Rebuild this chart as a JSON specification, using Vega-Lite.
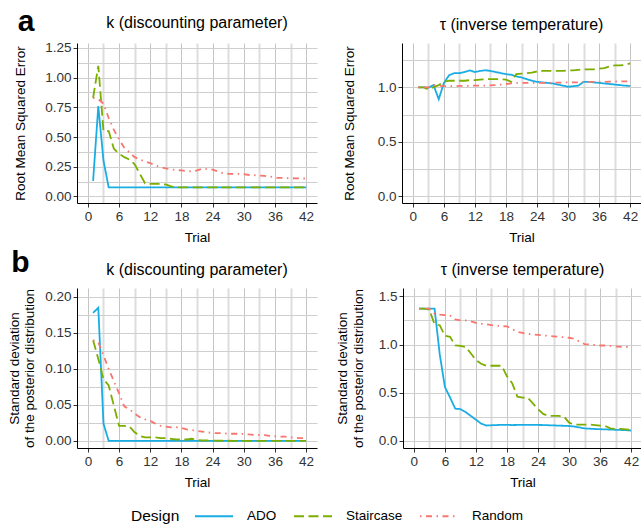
{
  "$schema": "https://vega.github.io/schema/vega-lite/v6.json",
  "background": "white",
  "padding": {"left": 7, "right": 0, "top": 6, "bottom": 5},
  "config": {
    "font": "Liberation Sans",
    "view": {"stroke": null},
    "axis": {"domainColor": "black", "domainWidth": 1, "tickColor": "#333333", "tickSize": 4, "labelFontSize": 13.5, "labelColor": "#333333", "labelPadding": 2, "titleFontSize": 13.5, "titleFontWeight": "normal", "titleColor": "black", "grid": true, "gridColor": "#cfcfcf", "gridWidth": 1},
    "title": {"fontSize": 16, "fontWeight": "normal", "offset": 10},
    "legend": {"orient": "none", "direction": "horizontal", "titleOrient": "left", "titleAnchor": "middle", "titleBaseline": "top", "titleFontSize": 15.5, "titleFontWeight": "normal", "titleColor": "black", "labelFontSize": 13.5, "labelColor": "black", "symbolType": "stroke", "symbolSize": 1444, "symbolStrokeWidth": 1.8, "columnPadding": 13, "labelOffset": 13, "titlePadding": 14}
  },
  "data": {"values": [
    {"p":"kR","t":1,"ADO":0.13,"Staircase":0.83,"Random":0.83},
    {"p":"kR","t":2,"ADO":0.76,"Staircase":1.10,"Random":0.82},
    {"p":"kR","t":3,"ADO":0.30,"Staircase":0.55,"Random":0.78},
    {"p":"kR","t":4,"ADO":0.075,"Staircase":0.55,"Random":0.66},
    {"p":"kR","t":5,"ADO":0.075,"Staircase":0.40,"Random":0.56},
    {"p":"kR","t":6,"ADO":0.075,"Staircase":0.36,"Random":0.48},
    {"p":"kR","t":7,"ADO":0.075,"Staircase":0.33,"Random":0.41},
    {"p":"kR","t":8,"ADO":0.075,"Staircase":0.31,"Random":0.37},
    {"p":"kR","t":9,"ADO":0.075,"Staircase":0.27,"Random":0.33},
    {"p":"kR","t":10,"ADO":0.075,"Staircase":0.19,"Random":0.31},
    {"p":"kR","t":11,"ADO":0.075,"Staircase":0.11,"Random":0.295},
    {"p":"kR","t":12,"ADO":0.075,"Staircase":0.105,"Random":0.28},
    {"p":"kR","t":13,"ADO":0.075,"Staircase":0.105,"Random":0.26},
    {"p":"kR","t":14,"ADO":0.075,"Staircase":0.105,"Random":0.245},
    {"p":"kR","t":15,"ADO":0.075,"Staircase":0.10,"Random":0.235},
    {"p":"kR","t":16,"ADO":0.075,"Staircase":0.085,"Random":0.228},
    {"p":"kR","t":17,"ADO":0.075,"Staircase":0.075,"Random":0.222},
    {"p":"kR","t":18,"ADO":0.075,"Staircase":0.075,"Random":0.218},
    {"p":"kR","t":19,"ADO":0.075,"Staircase":0.075,"Random":0.214},
    {"p":"kR","t":20,"ADO":0.075,"Staircase":0.075,"Random":0.21},
    {"p":"kR","t":21,"ADO":0.075,"Staircase":0.075,"Random":0.218},
    {"p":"kR","t":22,"ADO":0.075,"Staircase":0.075,"Random":0.232},
    {"p":"kR","t":23,"ADO":0.075,"Staircase":0.075,"Random":0.23},
    {"p":"kR","t":24,"ADO":0.075,"Staircase":0.075,"Random":0.225},
    {"p":"kR","t":25,"ADO":0.075,"Staircase":0.075,"Random":0.21},
    {"p":"kR","t":26,"ADO":0.075,"Staircase":0.075,"Random":0.195},
    {"p":"kR","t":27,"ADO":0.075,"Staircase":0.075,"Random":0.19},
    {"p":"kR","t":28,"ADO":0.075,"Staircase":0.075,"Random":0.19},
    {"p":"kR","t":29,"ADO":0.075,"Staircase":0.075,"Random":0.19},
    {"p":"kR","t":30,"ADO":0.075,"Staircase":0.075,"Random":0.188},
    {"p":"kR","t":31,"ADO":0.075,"Staircase":0.075,"Random":0.18},
    {"p":"kR","t":32,"ADO":0.075,"Staircase":0.075,"Random":0.178},
    {"p":"kR","t":33,"ADO":0.075,"Staircase":0.075,"Random":0.175},
    {"p":"kR","t":34,"ADO":0.075,"Staircase":0.075,"Random":0.172},
    {"p":"kR","t":35,"ADO":0.075,"Staircase":0.075,"Random":0.168},
    {"p":"kR","t":36,"ADO":0.075,"Staircase":0.075,"Random":0.157},
    {"p":"kR","t":37,"ADO":0.075,"Staircase":0.075,"Random":0.155},
    {"p":"kR","t":38,"ADO":0.075,"Staircase":0.075,"Random":0.155},
    {"p":"kR","t":39,"ADO":0.075,"Staircase":0.075,"Random":0.153},
    {"p":"kR","t":40,"ADO":0.075,"Staircase":0.075,"Random":0.152},
    {"p":"kR","t":41,"ADO":0.075,"Staircase":0.075,"Random":0.151},
    {"p":"kR","t":42,"ADO":0.075,"Staircase":0.075,"Random":0.15},
    {"p":"tR","t":1,"ADO":1.0,"Staircase":1.0,"Random":1.0},
    {"p":"tR","t":2,"ADO":1.0,"Staircase":1.0,"Random":1.0},
    {"p":"tR","t":3,"ADO":0.995,"Staircase":0.98,"Random":1.0},
    {"p":"tR","t":4,"ADO":1.02,"Staircase":1.0,"Random":1.02},
    {"p":"tR","t":5,"ADO":0.89,"Staircase":1.02,"Random":1.015},
    {"p":"tR","t":6,"ADO":1.04,"Staircase":1.05,"Random":1.01},
    {"p":"tR","t":7,"ADO":1.11,"Staircase":1.06,"Random":1.01},
    {"p":"tR","t":8,"ADO":1.13,"Staircase":1.06,"Random":1.01},
    {"p":"tR","t":9,"ADO":1.13,"Staircase":1.06,"Random":1.012},
    {"p":"tR","t":10,"ADO":1.14,"Staircase":1.06,"Random":1.012},
    {"p":"tR","t":11,"ADO":1.155,"Staircase":1.065,"Random":1.014},
    {"p":"tR","t":12,"ADO":1.14,"Staircase":1.065,"Random":1.015},
    {"p":"tR","t":13,"ADO":1.15,"Staircase":1.07,"Random":1.015},
    {"p":"tR","t":14,"ADO":1.156,"Staircase":1.075,"Random":1.016},
    {"p":"tR","t":15,"ADO":1.15,"Staircase":1.075,"Random":1.018},
    {"p":"tR","t":16,"ADO":1.14,"Staircase":1.075,"Random":1.02},
    {"p":"tR","t":17,"ADO":1.13,"Staircase":1.075,"Random":1.025},
    {"p":"tR","t":18,"ADO":1.12,"Staircase":1.07,"Random":1.03},
    {"p":"tR","t":19,"ADO":1.115,"Staircase":1.05,"Random":1.035},
    {"p":"tR","t":20,"ADO":1.1,"Staircase":1.12,"Random":1.04},
    {"p":"tR","t":21,"ADO":1.09,"Staircase":1.125,"Random":1.04},
    {"p":"tR","t":22,"ADO":1.075,"Staircase":1.13,"Random":1.04},
    {"p":"tR","t":23,"ADO":1.06,"Staircase":1.135,"Random":1.042},
    {"p":"tR","t":24,"ADO":1.05,"Staircase":1.145,"Random":1.04},
    {"p":"tR","t":25,"ADO":1.045,"Staircase":1.15,"Random":1.04},
    {"p":"tR","t":26,"ADO":1.04,"Staircase":1.15,"Random":1.04},
    {"p":"tR","t":27,"ADO":1.035,"Staircase":1.15,"Random":1.042},
    {"p":"tR","t":28,"ADO":1.025,"Staircase":1.15,"Random":1.042},
    {"p":"tR","t":29,"ADO":1.015,"Staircase":1.15,"Random":1.044},
    {"p":"tR","t":30,"ADO":1.005,"Staircase":1.155,"Random":1.045},
    {"p":"tR","t":31,"ADO":1.01,"Staircase":1.155,"Random":1.045},
    {"p":"tR","t":32,"ADO":1.015,"Staircase":1.16,"Random":1.046},
    {"p":"tR","t":33,"ADO":1.05,"Staircase":1.165,"Random":1.048},
    {"p":"tR","t":34,"ADO":1.05,"Staircase":1.165,"Random":1.05},
    {"p":"tR","t":35,"ADO":1.045,"Staircase":1.165,"Random":1.05},
    {"p":"tR","t":36,"ADO":1.04,"Staircase":1.17,"Random":1.05},
    {"p":"tR","t":37,"ADO":1.035,"Staircase":1.175,"Random":1.05},
    {"p":"tR","t":38,"ADO":1.03,"Staircase":1.19,"Random":1.052},
    {"p":"tR","t":39,"ADO":1.025,"Staircase":1.2,"Random":1.052},
    {"p":"tR","t":40,"ADO":1.02,"Staircase":1.2,"Random":1.054},
    {"p":"tR","t":41,"ADO":1.015,"Staircase":1.205,"Random":1.055},
    {"p":"tR","t":42,"ADO":1.012,"Staircase":1.22,"Random":1.055},
    {"p":"kS","t":1,"ADO":0.178,"Staircase":0.14,"Random":0.14},
    {"p":"kS","t":2,"ADO":0.185,"Staircase":0.114,"Random":0.137},
    {"p":"kS","t":3,"ADO":0.024,"Staircase":0.086,"Random":0.119},
    {"p":"kS","t":4,"ADO":0.0,"Staircase":0.077,"Random":0.1},
    {"p":"kS","t":5,"ADO":0.0,"Staircase":0.049,"Random":0.083},
    {"p":"kS","t":6,"ADO":0.0,"Staircase":0.021,"Random":0.066},
    {"p":"kS","t":7,"ADO":0.0,"Staircase":0.021,"Random":0.048},
    {"p":"kS","t":8,"ADO":0.0,"Staircase":0.02,"Random":0.044},
    {"p":"kS","t":9,"ADO":0.0,"Staircase":0.012,"Random":0.038},
    {"p":"kS","t":10,"ADO":0.0,"Staircase":0.007,"Random":0.033},
    {"p":"kS","t":11,"ADO":0.0,"Staircase":0.005,"Random":0.03},
    {"p":"kS","t":12,"ADO":0.0,"Staircase":0.005,"Random":0.028},
    {"p":"kS","t":13,"ADO":0.0,"Staircase":0.005,"Random":0.024},
    {"p":"kS","t":14,"ADO":0.0,"Staircase":0.004,"Random":0.021},
    {"p":"kS","t":15,"ADO":0.0,"Staircase":0.004,"Random":0.02},
    {"p":"kS","t":16,"ADO":0.0,"Staircase":0.003,"Random":0.019},
    {"p":"kS","t":17,"ADO":0.0,"Staircase":0.002,"Random":0.019},
    {"p":"kS","t":18,"ADO":0.0,"Staircase":0.002,"Random":0.018},
    {"p":"kS","t":19,"ADO":0.0,"Staircase":0.002,"Random":0.016},
    {"p":"kS","t":20,"ADO":0.0,"Staircase":0.003,"Random":0.015},
    {"p":"kS","t":21,"ADO":0.0,"Staircase":0.001,"Random":0.014},
    {"p":"kS","t":22,"ADO":0.0,"Staircase":0.0008,"Random":0.013},
    {"p":"kS","t":23,"ADO":0.0,"Staircase":0.0006,"Random":0.012},
    {"p":"kS","t":24,"ADO":0.0,"Staircase":0.0005,"Random":0.011},
    {"p":"kS","t":25,"ADO":0.0,"Staircase":0.0004,"Random":0.011},
    {"p":"kS","t":26,"ADO":0.0,"Staircase":0.0003,"Random":0.011},
    {"p":"kS","t":27,"ADO":0.0,"Staircase":0.0003,"Random":0.01},
    {"p":"kS","t":28,"ADO":0.0,"Staircase":0.0002,"Random":0.01},
    {"p":"kS","t":29,"ADO":0.0,"Staircase":0.0002,"Random":0.01},
    {"p":"kS","t":30,"ADO":0.0,"Staircase":0.0002,"Random":0.0097},
    {"p":"kS","t":31,"ADO":0.0,"Staircase":0.0001,"Random":0.009},
    {"p":"kS","t":32,"ADO":0.0,"Staircase":0.0001,"Random":0.0085},
    {"p":"kS","t":33,"ADO":0.0,"Staircase":0.0001,"Random":0.0083},
    {"p":"kS","t":34,"ADO":0.0,"Staircase":0.0001,"Random":0.008},
    {"p":"kS","t":35,"ADO":0.0,"Staircase":0.0001,"Random":0.007},
    {"p":"kS","t":36,"ADO":0.0,"Staircase":0.0001,"Random":0.0065},
    {"p":"kS","t":37,"ADO":0.0,"Staircase":0.0,"Random":0.006},
    {"p":"kS","t":38,"ADO":0.0,"Staircase":0.0,"Random":0.006},
    {"p":"kS","t":39,"ADO":0.0,"Staircase":0.0,"Random":0.005},
    {"p":"kS","t":40,"ADO":0.0,"Staircase":0.0,"Random":0.0045},
    {"p":"kS","t":41,"ADO":0.0,"Staircase":0.0,"Random":0.004},
    {"p":"kS","t":42,"ADO":0.0,"Staircase":0.0,"Random":0.004},
    {"p":"tS","t":1,"ADO":1.372,"Staircase":1.372,"Random":1.372},
    {"p":"tS","t":2,"ADO":1.372,"Staircase":1.372,"Random":1.372},
    {"p":"tS","t":3,"ADO":1.372,"Staircase":1.36,"Random":1.372},
    {"p":"tS","t":4,"ADO":1.372,"Staircase":1.21,"Random":1.32},
    {"p":"tS","t":5,"ADO":0.9,"Staircase":1.2,"Random":1.31},
    {"p":"tS","t":6,"ADO":0.56,"Staircase":1.09,"Random":1.305},
    {"p":"tS","t":7,"ADO":0.45,"Staircase":1.08,"Random":1.3},
    {"p":"tS","t":8,"ADO":0.335,"Staircase":0.99,"Random":1.26},
    {"p":"tS","t":9,"ADO":0.33,"Staircase":0.985,"Random":1.25},
    {"p":"tS","t":10,"ADO":0.3,"Staircase":0.975,"Random":1.25},
    {"p":"tS","t":11,"ADO":0.26,"Staircase":0.91,"Random":1.24},
    {"p":"tS","t":12,"ADO":0.22,"Staircase":0.84,"Random":1.225},
    {"p":"tS","t":13,"ADO":0.18,"Staircase":0.8,"Random":1.215},
    {"p":"tS","t":14,"ADO":0.16,"Staircase":0.78,"Random":1.21},
    {"p":"tS","t":15,"ADO":0.163,"Staircase":0.78,"Random":1.2},
    {"p":"tS","t":16,"ADO":0.165,"Staircase":0.78,"Random":1.195},
    {"p":"tS","t":17,"ADO":0.167,"Staircase":0.78,"Random":1.19},
    {"p":"tS","t":18,"ADO":0.167,"Staircase":0.67,"Random":1.188},
    {"p":"tS","t":19,"ADO":0.165,"Staircase":0.6,"Random":1.16},
    {"p":"tS","t":20,"ADO":0.166,"Staircase":0.46,"Random":1.13},
    {"p":"tS","t":21,"ADO":0.167,"Staircase":0.45,"Random":1.12},
    {"p":"tS","t":22,"ADO":0.167,"Staircase":0.45,"Random":1.11},
    {"p":"tS","t":23,"ADO":0.167,"Staircase":0.39,"Random":1.105},
    {"p":"tS","t":24,"ADO":0.166,"Staircase":0.33,"Random":1.1},
    {"p":"tS","t":25,"ADO":0.165,"Staircase":0.28,"Random":1.095},
    {"p":"tS","t":26,"ADO":0.163,"Staircase":0.26,"Random":1.09},
    {"p":"tS","t":27,"ADO":0.161,"Staircase":0.26,"Random":1.085},
    {"p":"tS","t":28,"ADO":0.159,"Staircase":0.26,"Random":1.08},
    {"p":"tS","t":29,"ADO":0.157,"Staircase":0.255,"Random":1.075},
    {"p":"tS","t":30,"ADO":0.155,"Staircase":0.19,"Random":1.07},
    {"p":"tS","t":31,"ADO":0.15,"Staircase":0.17,"Random":1.06},
    {"p":"tS","t":32,"ADO":0.14,"Staircase":0.17,"Random":1.03},
    {"p":"tS","t":33,"ADO":0.13,"Staircase":0.17,"Random":1.005},
    {"p":"tS","t":34,"ADO":0.127,"Staircase":0.17,"Random":1.0},
    {"p":"tS","t":35,"ADO":0.124,"Staircase":0.165,"Random":0.995},
    {"p":"tS","t":36,"ADO":0.122,"Staircase":0.16,"Random":0.99},
    {"p":"tS","t":37,"ADO":0.12,"Staircase":0.155,"Random":0.99},
    {"p":"tS","t":38,"ADO":0.118,"Staircase":0.13,"Random":0.985},
    {"p":"tS","t":39,"ADO":0.116,"Staircase":0.125,"Random":0.98},
    {"p":"tS","t":40,"ADO":0.114,"Staircase":0.125,"Random":0.975},
    {"p":"tS","t":41,"ADO":0.112,"Staircase":0.12,"Random":0.975},
    {"p":"tS","t":42,"ADO":0.108,"Staircase":0.115,"Random":0.973}
  ]},
  "resolve": {"scale": {"color": "shared", "strokeDash": "shared"}},
  "spacing": 4,
  "vconcat": [
    {
      "title": {"text": "a", "anchor": "start", "frame": "bounds", "fontSize": 30, "fontWeight": "bold", "offset": -22, "dx": 4},
      "spacing": 25,
      "resolve": {"scale": {"color": "shared", "strokeDash": "shared"}},
      "hconcat": [
        {
          "width": 240, "height": 160,
          "title": "k (discounting parameter)",
          "transform": [{"filter": "datum.p === 'kR'"}, {"fold": ["ADO", "Staircase", "Random"], "as": ["Design", "value"]}],
          "mark": {"type": "line", "strokeWidth": 1.8},
          "encoding": {
            "x": {"field": "t", "type": "quantitative", "title": "Trial", "scale": {"domain": [-2.1, 44.1], "nice": false, "zero": false},
              "axis": {"values": [0,3,6,9,12,15,18,21,24,27,30,33,36,39,42], "labelExpr": "datum.value % 6 === 0 ? datum.label : ''", "gridColor": {"condition": {"test": "datum.value % 6 === 0", "value": "#c4c4c4"}, "value": "#dddddd"}, "gridWidth": {"condition": {"test": "datum.value % 6 === 0", "value": 1}, "value": 2}, "tickOpacity": {"condition": {"test": "datum.value % 6 === 0", "value": 1}, "value": 0}, "titlePadding": 8}},
            "y": {"field": "value", "type": "quantitative", "title": "Root Mean Squared Error", "scale": {"domain": [-0.056, 1.292], "nice": false, "zero": false},
              "axis": {"grid": true, "gridColor": "#cfcfcf", "values": [0,0.125,0.25,0.375,0.5,0.625,0.75,0.875,1,1.125,1.25], "format": ".2f", "labelExpr": "abs(datum.value/0.25 - round(datum.value/0.25)) < 0.001 ? datum.label : ''", "tickOpacity": {"condition": {"test": "abs(datum.value/0.25 - round(datum.value/0.25)) < 0.001", "value": 1}, "value": 0}, "titlePadding": 17}},
            "color": {"field": "Design", "type": "nominal", "scale": {"domain": ["ADO", "Staircase", "Random"], "range": ["#1AADE4", "#7CAE00", "#F8766D"]}, "legend": {"legendX": 54, "legendY": 453}},
            "strokeDash": {"field": "Design", "type": "nominal", "scale": {"domain": ["ADO", "Staircase", "Random"], "range": [[1, 0], [10, 4.5], [1.5, 4.5, 6, 4.5]]}, "legend": {"legendX": 54, "legendY": 453}}
          }
        },
        {
          "width": 239, "height": 160,
          "title": "τ (inverse temperature)",
          "transform": [{"filter": "datum.p === 'tR'"}, {"fold": ["ADO", "Staircase", "Random"], "as": ["Design", "value"]}],
          "mark": {"type": "line", "strokeWidth": 1.8},
          "encoding": {
            "x": {"field": "t", "type": "quantitative", "title": "Trial", "scale": {"domain": [-2.1, 44.1], "nice": false, "zero": false},
              "axis": {"values": [0,3,6,9,12,15,18,21,24,27,30,33,36,39,42], "labelExpr": "datum.value % 6 === 0 ? datum.label : ''", "gridColor": {"condition": {"test": "datum.value % 6 === 0", "value": "#c4c4c4"}, "value": "#dddddd"}, "gridWidth": {"condition": {"test": "datum.value % 6 === 0", "value": 1}, "value": 2}, "tickOpacity": {"condition": {"test": "datum.value % 6 === 0", "value": 1}, "value": 0}, "titlePadding": 8}},
            "y": {"field": "value", "type": "quantitative", "title": "Root Mean Squared Error", "scale": {"domain": [-0.061, 1.406], "nice": false, "zero": false},
              "axis": {"grid": true, "gridColor": "#cfcfcf", "values": [0,0.25,0.5,0.75,1,1.25], "format": ".1f", "labelExpr": "abs(datum.value/0.5 - round(datum.value/0.5)) < 0.001 ? datum.label : ''", "tickOpacity": {"condition": {"test": "abs(datum.value/0.5 - round(datum.value/0.5)) < 0.001", "value": 1}, "value": 0}, "titlePadding": 21}},
            "color": {"field": "Design", "type": "nominal", "scale": {"domain": ["ADO", "Staircase", "Random"], "range": ["#1AADE4", "#7CAE00", "#F8766D"]}},
            "strokeDash": {"field": "Design", "type": "nominal", "scale": {"domain": ["ADO", "Staircase", "Random"], "range": [[1, 0], [10, 4.5], [1.5, 4.5, 6, 4.5]]}}
          }
        }
      ]
    },
    {
      "title": {"text": "b", "anchor": "start", "frame": "bounds", "fontSize": 30, "fontWeight": "bold", "offset": -16, "dx": 4},
      "spacing": 18,
      "resolve": {"scale": {"color": "shared", "strokeDash": "shared"}},
      "hconcat": [
        {
          "width": 240, "height": 160,
          "title": "k (discounting parameter)",
          "transform": [{"filter": "datum.p === 'kS'"}, {"fold": ["ADO", "Staircase", "Random"], "as": ["Design", "value"]}],
          "mark": {"type": "line", "strokeWidth": 1.8},
          "encoding": {
            "x": {"field": "t", "type": "quantitative", "title": "Trial", "scale": {"domain": [-2.1, 44.1], "nice": false, "zero": false},
              "axis": {"values": [0,3,6,9,12,15,18,21,24,27,30,33,36,39,42], "labelExpr": "datum.value % 6 === 0 ? datum.label : ''", "gridColor": {"condition": {"test": "datum.value % 6 === 0", "value": "#c4c4c4"}, "value": "#dddddd"}, "gridWidth": {"condition": {"test": "datum.value % 6 === 0", "value": 1}, "value": 2}, "tickOpacity": {"condition": {"test": "datum.value % 6 === 0", "value": 1}, "value": 0}, "titlePadding": 8}},
            "y": {"field": "value", "type": "quantitative", "title": ["Standard deviation", "of the posterior distribution"], "scale": {"domain": [-0.0098, 0.2125], "nice": false, "zero": false},
              "axis": {"grid": true, "gridColor": "#cfcfcf", "values": [0,0.025,0.05,0.075,0.1,0.125,0.15,0.175,0.2], "format": ".2f", "labelExpr": "abs(datum.value/0.05 - round(datum.value/0.05)) < 0.001 ? datum.label : ''", "tickOpacity": {"condition": {"test": "abs(datum.value/0.05 - round(datum.value/0.05)) < 0.001", "value": 1}, "value": 0}, "titlePadding": 8}},
            "color": {"field": "Design", "type": "nominal", "scale": {"domain": ["ADO", "Staircase", "Random"], "range": ["#1AADE4", "#7CAE00", "#F8766D"]}},
            "strokeDash": {"field": "Design", "type": "nominal", "scale": {"domain": ["ADO", "Staircase", "Random"], "range": [[1, 0], [10, 4.5], [1.5, 4.5, 6, 4.5]]}}
          }
        },
        {
          "width": 239, "height": 160,
          "title": "τ (inverse temperature)",
          "transform": [{"filter": "datum.p === 'tS'"}, {"fold": ["ADO", "Staircase", "Random"], "as": ["Design", "value"]}],
          "mark": {"type": "line", "strokeWidth": 1.8},
          "encoding": {
            "x": {"field": "t", "type": "quantitative", "title": "Trial", "scale": {"domain": [-2.1, 44.1], "nice": false, "zero": false},
              "axis": {"values": [0,3,6,9,12,15,18,21,24,27,30,33,36,39,42], "labelExpr": "datum.value % 6 === 0 ? datum.label : ''", "gridColor": {"condition": {"test": "datum.value % 6 === 0", "value": "#c4c4c4"}, "value": "#dddddd"}, "gridWidth": {"condition": {"test": "datum.value % 6 === 0", "value": 1}, "value": 2}, "tickOpacity": {"condition": {"test": "datum.value % 6 === 0", "value": 1}, "value": 0}, "titlePadding": 8}},
            "y": {"field": "value", "type": "quantitative", "title": ["Standard deviation", "of the posterior distribution"], "scale": {"domain": [-0.073, 1.586], "nice": false, "zero": false},
              "axis": {"grid": true, "gridColor": "#cfcfcf", "values": [0,0.25,0.5,0.75,1,1.25,1.5], "format": ".1f", "labelExpr": "abs(datum.value/0.5 - round(datum.value/0.5)) < 0.001 ? datum.label : ''", "tickOpacity": {"condition": {"test": "abs(datum.value/0.5 - round(datum.value/0.5)) < 0.001", "value": 1}, "value": 0}, "titlePadding": 13}},
            "color": {"field": "Design", "type": "nominal", "scale": {"domain": ["ADO", "Staircase", "Random"], "range": ["#1AADE4", "#7CAE00", "#F8766D"]}},
            "strokeDash": {"field": "Design", "type": "nominal", "scale": {"domain": ["ADO", "Staircase", "Random"], "range": [[1, 0], [10, 4.5], [1.5, 4.5, 6, 4.5]]}}
          }
        }
      ]
    }
  ]
}
